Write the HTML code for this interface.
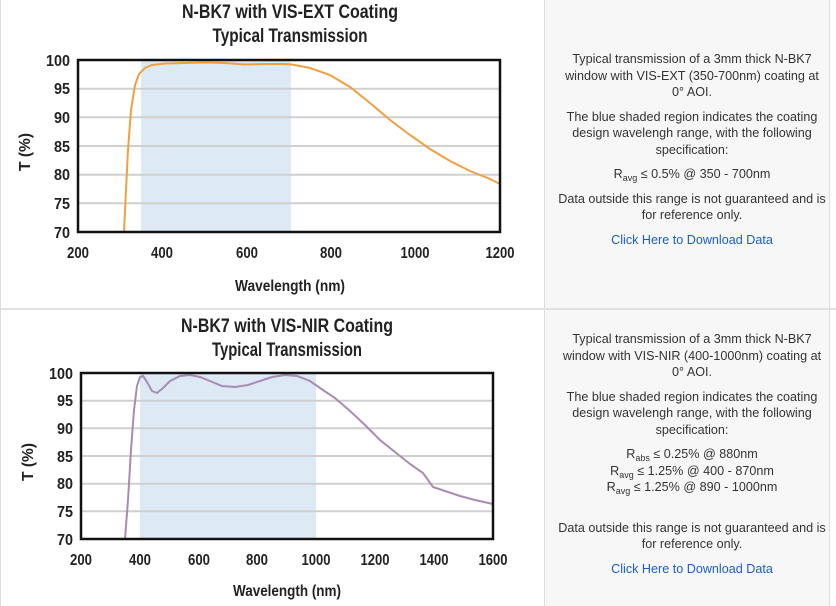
<!DOCTYPE html>
<html><head><meta charset="utf-8"><style>
body{margin:0;width:836px;height:606px;background:#fff;overflow:hidden;position:relative;font-family:"Liberation Sans",sans-serif}
.rp{position:absolute;left:544px;width:284px;background:#f7f7f7;border-left:1px solid #ddd;border-right:1px solid #ddd}
.txt{position:absolute;left:558px;width:268px;text-align:center;font-size:12.6px;line-height:16.5px;color:#333}
.txt p{margin:0 0 8px}
.txt a{color:#1a5fc8;text-decoration:none}
sub{font-size:9px;vertical-align:-3px;line-height:0}
</style></head><body>
<div class="rp" style="top:0;height:308px"></div>
<div class="rp" style="top:310px;height:296px"></div>
<div style="position:absolute;left:0;top:308px;width:836px;height:2px;background:#e2e2e2"></div>
<div style="position:absolute;left:0;top:0;width:1px;height:606px;background:#ddd"></div>
<svg width="543" height="606" style="position:absolute;left:0;top:0" font-family="'Liberation Sans',sans-serif" font-weight="bold">
<g text-anchor="middle" font-size="19" fill="#222" lengthAdjust="spacingAndGlyphs">
<text x="290" y="18" textLength="216" lengthAdjust="spacingAndGlyphs">N-BK7 with VIS-EXT Coating</text>
<text x="290" y="42" textLength="155" lengthAdjust="spacingAndGlyphs">Typical Transmission</text>
<text x="287" y="332" textLength="212" lengthAdjust="spacingAndGlyphs">N-BK7 with VIS-NIR Coating</text>
<text x="287" y="356" textLength="150" lengthAdjust="spacingAndGlyphs">Typical Transmission</text>
</g>
<!-- chart 1 -->
<rect x="141" y="60" width="150" height="172" fill="#dde9f5"/>
<g stroke="#d0d0d0" stroke-width="2">
<line x1="78" x2="500" y1="88.7" y2="88.7"/><line x1="78" x2="500" y1="117.3" y2="117.3"/><line x1="78" x2="500" y1="146" y2="146"/><line x1="78" x2="500" y1="174.7" y2="174.7"/><line x1="78" x2="500" y1="203.3" y2="203.3"/>
</g>
<path d="M124,232 L126,190 L128,150 L131,110 L135,85 L139,74 L145,68 L152,65 L165,63.5 L185,63 L205,62.5 L225,63 L245,64.5 L265,64 L285,64 L292,64.5 L310,68 L330,75 L350,87 L370,103 L390,120 L410,135 L430,149 L450,161 L470,171 L490,179 L500,184" fill="none" stroke="#f0a040" stroke-width="2"/>
<rect x="78" y="60" width="422" height="172" fill="none" stroke="#111" stroke-width="2.5"/>
<g font-size="16" fill="#222" text-anchor="end">
<text x="70" y="66" textLength="24" lengthAdjust="spacingAndGlyphs">100</text><text x="70" y="94" textLength="16" lengthAdjust="spacingAndGlyphs">95</text><text x="70" y="123" textLength="16" lengthAdjust="spacingAndGlyphs">90</text><text x="70" y="152" textLength="16" lengthAdjust="spacingAndGlyphs">85</text><text x="70" y="180" textLength="16" lengthAdjust="spacingAndGlyphs">80</text><text x="70" y="209" textLength="16" lengthAdjust="spacingAndGlyphs">75</text><text x="70" y="238" textLength="16" lengthAdjust="spacingAndGlyphs">70</text>
</g>
<g font-size="16" fill="#222" text-anchor="middle">
<text x="78" y="258" textLength="22" lengthAdjust="spacingAndGlyphs">200</text><text x="162" y="258" textLength="22" lengthAdjust="spacingAndGlyphs">400</text><text x="247" y="258" textLength="22" lengthAdjust="spacingAndGlyphs">600</text><text x="331" y="258" textLength="22" lengthAdjust="spacingAndGlyphs">800</text><text x="415" y="258" textLength="29" lengthAdjust="spacingAndGlyphs">1000</text><text x="500" y="258" textLength="29" lengthAdjust="spacingAndGlyphs">1200</text>
<text x="290" y="291" textLength="110" lengthAdjust="spacingAndGlyphs">Wavelength (nm)</text>
<text transform="translate(30,152) rotate(-90)" textLength="38" lengthAdjust="spacingAndGlyphs">T (%)</text>
</g>
<!-- chart 2 -->
<rect x="140" y="373" width="176" height="166" fill="#dde9f5"/>
<g stroke="#d0d0d0" stroke-width="2">
<line x1="81" x2="493" y1="400.7" y2="400.7"/><line x1="81" x2="493" y1="428.3" y2="428.3"/><line x1="81" x2="493" y1="456" y2="456"/><line x1="81" x2="493" y1="483.7" y2="483.7"/><line x1="81" x2="493" y1="511.3" y2="511.3"/>
</g>
<path d="M125,539 L128,500 L131,450 L134,410 L137,386 L140,377 L143,376 L147,382 L152,391 L157,393 L163,388 L170,381 L180,376 L190,375 L200,377 L210,381 L222,386 L235,387 L248,385 L260,381 L272,377 L285,375 L297,376 L310,381 L320,388 L335,398 L350,411 L365,425 L380,440 L395,452 L410,464 L423,473 L433,487 L445,491 L460,496 L475,500 L493,504" fill="none" stroke="#a78cb3" stroke-width="2"/>
<rect x="81" y="373" width="412" height="166" fill="none" stroke="#111" stroke-width="2.5"/>
<g font-size="16" fill="#222" text-anchor="end">
<text x="73" y="379" textLength="24" lengthAdjust="spacingAndGlyphs">100</text><text x="73" y="406" textLength="16" lengthAdjust="spacingAndGlyphs">95</text><text x="73" y="434" textLength="16" lengthAdjust="spacingAndGlyphs">90</text><text x="73" y="462" textLength="16" lengthAdjust="spacingAndGlyphs">85</text><text x="73" y="489" textLength="16" lengthAdjust="spacingAndGlyphs">80</text><text x="73" y="517" textLength="16" lengthAdjust="spacingAndGlyphs">75</text><text x="73" y="545" textLength="16" lengthAdjust="spacingAndGlyphs">70</text>
</g>
<g font-size="16" fill="#222" text-anchor="middle">
<text x="81" y="565" textLength="22" lengthAdjust="spacingAndGlyphs">200</text><text x="140" y="565" textLength="22" lengthAdjust="spacingAndGlyphs">400</text><text x="199" y="565" textLength="22" lengthAdjust="spacingAndGlyphs">600</text><text x="257" y="565" textLength="22" lengthAdjust="spacingAndGlyphs">800</text><text x="316" y="565" textLength="29" lengthAdjust="spacingAndGlyphs">1000</text><text x="375" y="565" textLength="29" lengthAdjust="spacingAndGlyphs">1200</text><text x="434" y="565" textLength="29" lengthAdjust="spacingAndGlyphs">1400</text><text x="493" y="565" textLength="29" lengthAdjust="spacingAndGlyphs">1600</text>
<text x="287" y="596" textLength="108" lengthAdjust="spacingAndGlyphs">Wavelength (nm)</text>
<text transform="translate(33,462) rotate(-90)" textLength="38" lengthAdjust="spacingAndGlyphs">T (%)</text>
</g>
</svg>
<div class="txt" style="top:51px">
<p>Typical transmission of a 3mm thick N-BK7 window with VIS-EXT (350-700nm) coating at 0° AOI.</p>
<p>The blue shaded region indicates the coating design wavelengh range, with the following specification:</p>
<p>R<sub>avg</sub> ≤ 0.5% @ 350 - 700nm</p>
<p>Data outside this range is not guaranteed and is for reference only.</p>
<p><a>Click Here to Download Data</a></p>
</div>
<div class="txt" style="top:331px">
<p>Typical transmission of a 3mm thick N-BK7 window with VIS-NIR (400-1000nm) coating at 0° AOI.</p>
<p>The blue shaded region indicates the coating design wavelengh range, with the following specification:</p>
<p style="margin-bottom:24px">R<sub>abs</sub> ≤ 0.25% @ 880nm<br>R<sub>avg</sub> ≤ 1.25% @ 400 - 870nm<br>R<sub>avg</sub> ≤ 1.25% @ 890 - 1000nm</p>
<p>Data outside this range is not guaranteed and is for reference only.</p>
<p><a>Click Here to Download Data</a></p>
</div>
</body></html>
